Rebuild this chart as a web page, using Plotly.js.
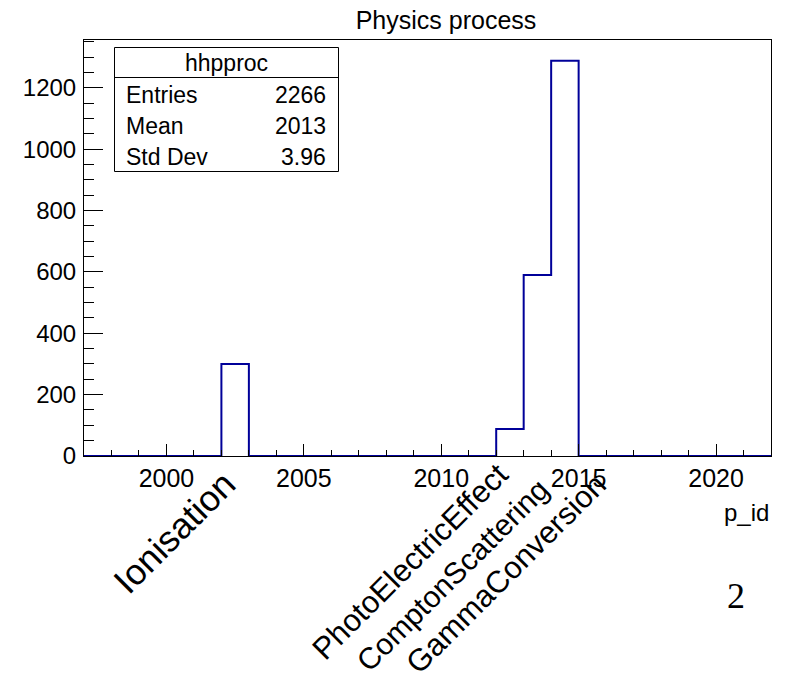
<!DOCTYPE html>
<html>
<head>
<meta charset="utf-8">
<script src="https://cdn.plot.ly/plotly-3.0.1.min.js"></script>
<style>html,body{margin:0;padding:0;background:#fff;}#chart{width:789px;height:680px;}</style>
</head>
<body>
<div id="chart"></div>
<script>
// ---- data ----
const histName = "hhpproc";
const chartTitle = "Physics process";
const xAxisTitle = "p_id";
const binLowEdge = 1997;
const binHighEdge = 2022;
const processIds = [2002, 2012, 2013, 2014];
const processCounts = [300, 88, 590, 1288];
const processNames = ["Ionisation", "PhotoElectricEffect", "ComptonScattering", "GammaConversion"];
const statsLabels = ["Entries", "Mean", "Std Dev"];
const statsValues = ["2266", "2013", "3.96"];
const xTickVals = [2000, 2005, 2010, 2015, 2020];
const yTickVals = [0, 200, 400, 600, 800, 1000, 1200];
const padNumber = "2";

// ---- build step outline from the data ----
const edges = [], stepY = [];
for (let e = binLowEdge; e <= binHighEdge; e++) {
  edges.push(e);
  const k = processIds.indexOf(e);
  stepY.push(k >= 0 ? processCounts[k] : 0);
}

// ---- layout geometry (pixels) ----
const W = 789, H = 680;
const mL = 84, mR = 18, mT = 40, mB = 224;
const PW = W - mL - mR, PH = H - mT - mB;
const px = x => (x - mL) / PW;
const py = y => (H - mB - y) / PH;
const FONT = "Liberation Sans, Arial, Helvetica, sans-serif";

const annotations = [];
// rotated process labels (centre positions in pixels)
const labelCentres = [[174, 532], [410, 561], [452, 575], [506, 573]];
const labelSizes = [36, 31, 30, 31];
processNames.forEach((name, i) => {
  annotations.push({
    text: name, xref: "paper", yref: "paper",
    x: px(labelCentres[i][0]), y: py(labelCentres[i][1]),
    xanchor: "center", yanchor: "middle", textangle: -45,
    showarrow: false, borderpad: 0,
    font: {family: FONT, size: labelSizes[i], color: "#000"}
  });
});
// x axis title
annotations.push({
  text: xAxisTitle, xref: "paper", yref: "paper", x: px(771), y: py(512),
  xanchor: "right", yanchor: "middle", showarrow: false,
  font: {family: FONT, size: 24, color: "#000"}
});
// pad number
annotations.push({
  text: padNumber, xref: "paper", yref: "paper", x: px(736), y: py(596),
  xanchor: "center", yanchor: "middle", showarrow: false,
  font: {family: "Liberation Serif, Times New Roman, serif", size: 36, color: "#000"}
});
// stats box text
const boxL = 114.5, boxR = 338.5, boxT = 47.5, boxSep = 77.5, boxB = 171.5;
annotations.push({
  text: histName, xref: "paper", yref: "paper", x: px((boxL + boxR) / 2), y: py(63),
  xanchor: "center", yanchor: "middle", showarrow: false,
  font: {family: FONT, size: 23, color: "#000"}
});
const rowY = [95, 126, 157];
statsLabels.forEach((lab, i) => {
  annotations.push({
    text: lab, xref: "paper", yref: "paper", x: px(124), y: py(rowY[i]),
    xanchor: "left", yanchor: "middle", showarrow: false,
    font: {family: FONT, size: 23, color: "#000"}
  });
  annotations.push({
    text: statsValues[i], xref: "paper", yref: "paper", x: px(328), y: py(rowY[i]),
    xanchor: "right", yanchor: "middle", showarrow: false,
    font: {family: FONT, size: 23, color: "#000"}
  });
});

const shapes = [
  {type: "rect", xref: "paper", yref: "paper", x0: px(boxL), x1: px(boxR), y0: py(boxB), y1: py(boxT),
   line: {color: "#000", width: 1}, fillcolor: "#fff", layer: "above"},
  {type: "line", xref: "paper", yref: "paper", x0: px(boxL), x1: px(boxR), y0: py(boxSep), y1: py(boxSep),
   line: {color: "#000", width: 1}, layer: "above"}
];

const trace = {
  type: "scatter", mode: "lines", x: edges, y: stepY,
  line: {shape: "hv", color: "#000099", width: 2},
  hoverinfo: "x+y", showlegend: false, cliponaxis: false
};

const layout = {
  width: W, height: H,
  margin: {l: mL, r: mR, t: mT, b: mB, pad: 0},
  paper_bgcolor: "#fff", plot_bgcolor: "#fff",
  font: {family: FONT, color: "#000"},
  title: {text: chartTitle, xref: "container", yref: "container", x: 446 / W, xanchor: "center",
          y: 1 - 20 / H, yanchor: "middle", font: {family: FONT, size: 25, color: "#000"}},
  xaxis: {
    range: [binLowEdge, binHighEdge], tickmode: "array", tickvals: xTickVals,
    ticks: "inside", ticklen: 12, tickwidth: 1, tickcolor: "#000",
    minor: {dtick: 1, tick0: binLowEdge, ticks: "inside", ticklen: 6, tickwidth: 1, tickcolor: "#000", showgrid: false},
    showgrid: false, zeroline: false, showline: true, linecolor: "#000", linewidth: 1, mirror: true,
    tickfont: {family: FONT, size: 25, color: "#000"}, ticklabelstandoff: 0
  },
  yaxis: {
    range: [0, 1356], tickmode: "array", tickvals: yTickVals,
    ticks: "inside", ticklen: 19, tickwidth: 1, tickcolor: "#000",
    minor: {dtick: 50, tick0: 0, ticks: "inside", ticklen: 10, tickwidth: 1, tickcolor: "#000", showgrid: false},
    showgrid: false, zeroline: false, showline: true, linecolor: "#000", linewidth: 1, mirror: true,
    tickfont: {family: FONT, size: 24, color: "#000"}, ticklabelstandoff: 2
  },
  shapes: shapes,
  annotations: annotations
};

Plotly.newPlot("chart", [trace], layout, {displayModeBar: false, staticPlot: true});
</script>
</body>
</html>
